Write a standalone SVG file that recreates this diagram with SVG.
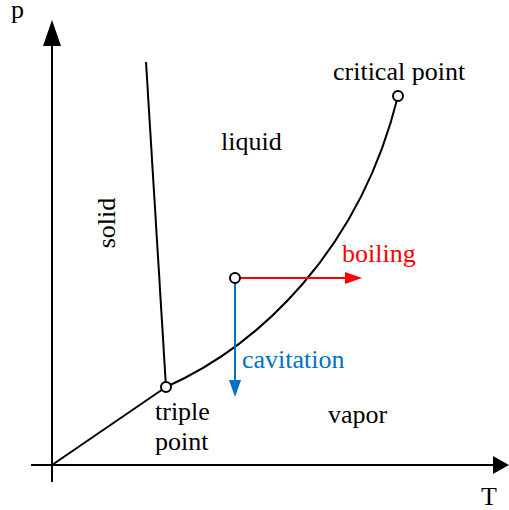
<svg xmlns="http://www.w3.org/2000/svg" width="509" height="510" viewBox="0 0 509 510">
<style>
.ln{stroke:#000;stroke-width:2;fill:none}
.pt{fill:#fff;stroke:#000;stroke-width:2}
</style>
<g id="connectors">
<path class="ln" d="M52,482 V46"/>
<path d="M52,20 L61,46 L43,46 Z" fill="#000"/>
<path class="ln" d="M31,465 H493"/>
<path d="M509,465 L493,456 L493,474 Z" fill="#000"/>
<path class="ln" d="M52,465 L166,387"/>
<path class="ln" d="M146,62 L166,387"/>
<path class="ln" d="M166,387 C260,345 360,250 398,96"/>
<path d="M240,278 H345" stroke="#ff0000" stroke-width="2" fill="none"/>
<path d="M362,278 L345,272 L345,284 Z" fill="#ff0000"/>
<path d="M235,283 V380" stroke="#0070c0" stroke-width="2" fill="none"/>
<path d="M235,397 L229,380 L241,380 Z" fill="#0070c0"/>
</g>
<g id="triple-point"><circle class="pt" cx="166" cy="387" r="5"/><text font-family="Liberation Serif" font-size="26" x="155" y="420">triple</text><text font-family="Liberation Serif" font-size="26" x="155" y="450">point</text></g>
<g id="critical-point"><circle class="pt" cx="398" cy="96" r="5"/><text font-family="Liberation Serif" font-size="26" x="333" y="80">critical point</text></g>
<g id="state"><circle class="pt" cx="235" cy="278" r="5"/></g>
<g id="labels">
<text font-family="Liberation Serif" font-size="26" x="11" y="18">p</text>
<text font-family="Liberation Serif" font-size="26" x="481" y="505">T</text>
<text font-family="Liberation Serif" font-size="26" x="221" y="150">liquid</text>
<text font-family="Liberation Serif" font-size="26" transform="translate(115,223) rotate(-90)" text-anchor="middle">solid</text>
<text font-family="Liberation Serif" font-size="26" x="328" y="423">vapor</text>
<text font-family="Liberation Serif" font-size="26" x="342" y="262" fill="#ff0000">boiling</text>
<text font-family="Liberation Serif" font-size="26" x="242" y="368" fill="#0070c0">cavitation</text>
</g>
</svg>
